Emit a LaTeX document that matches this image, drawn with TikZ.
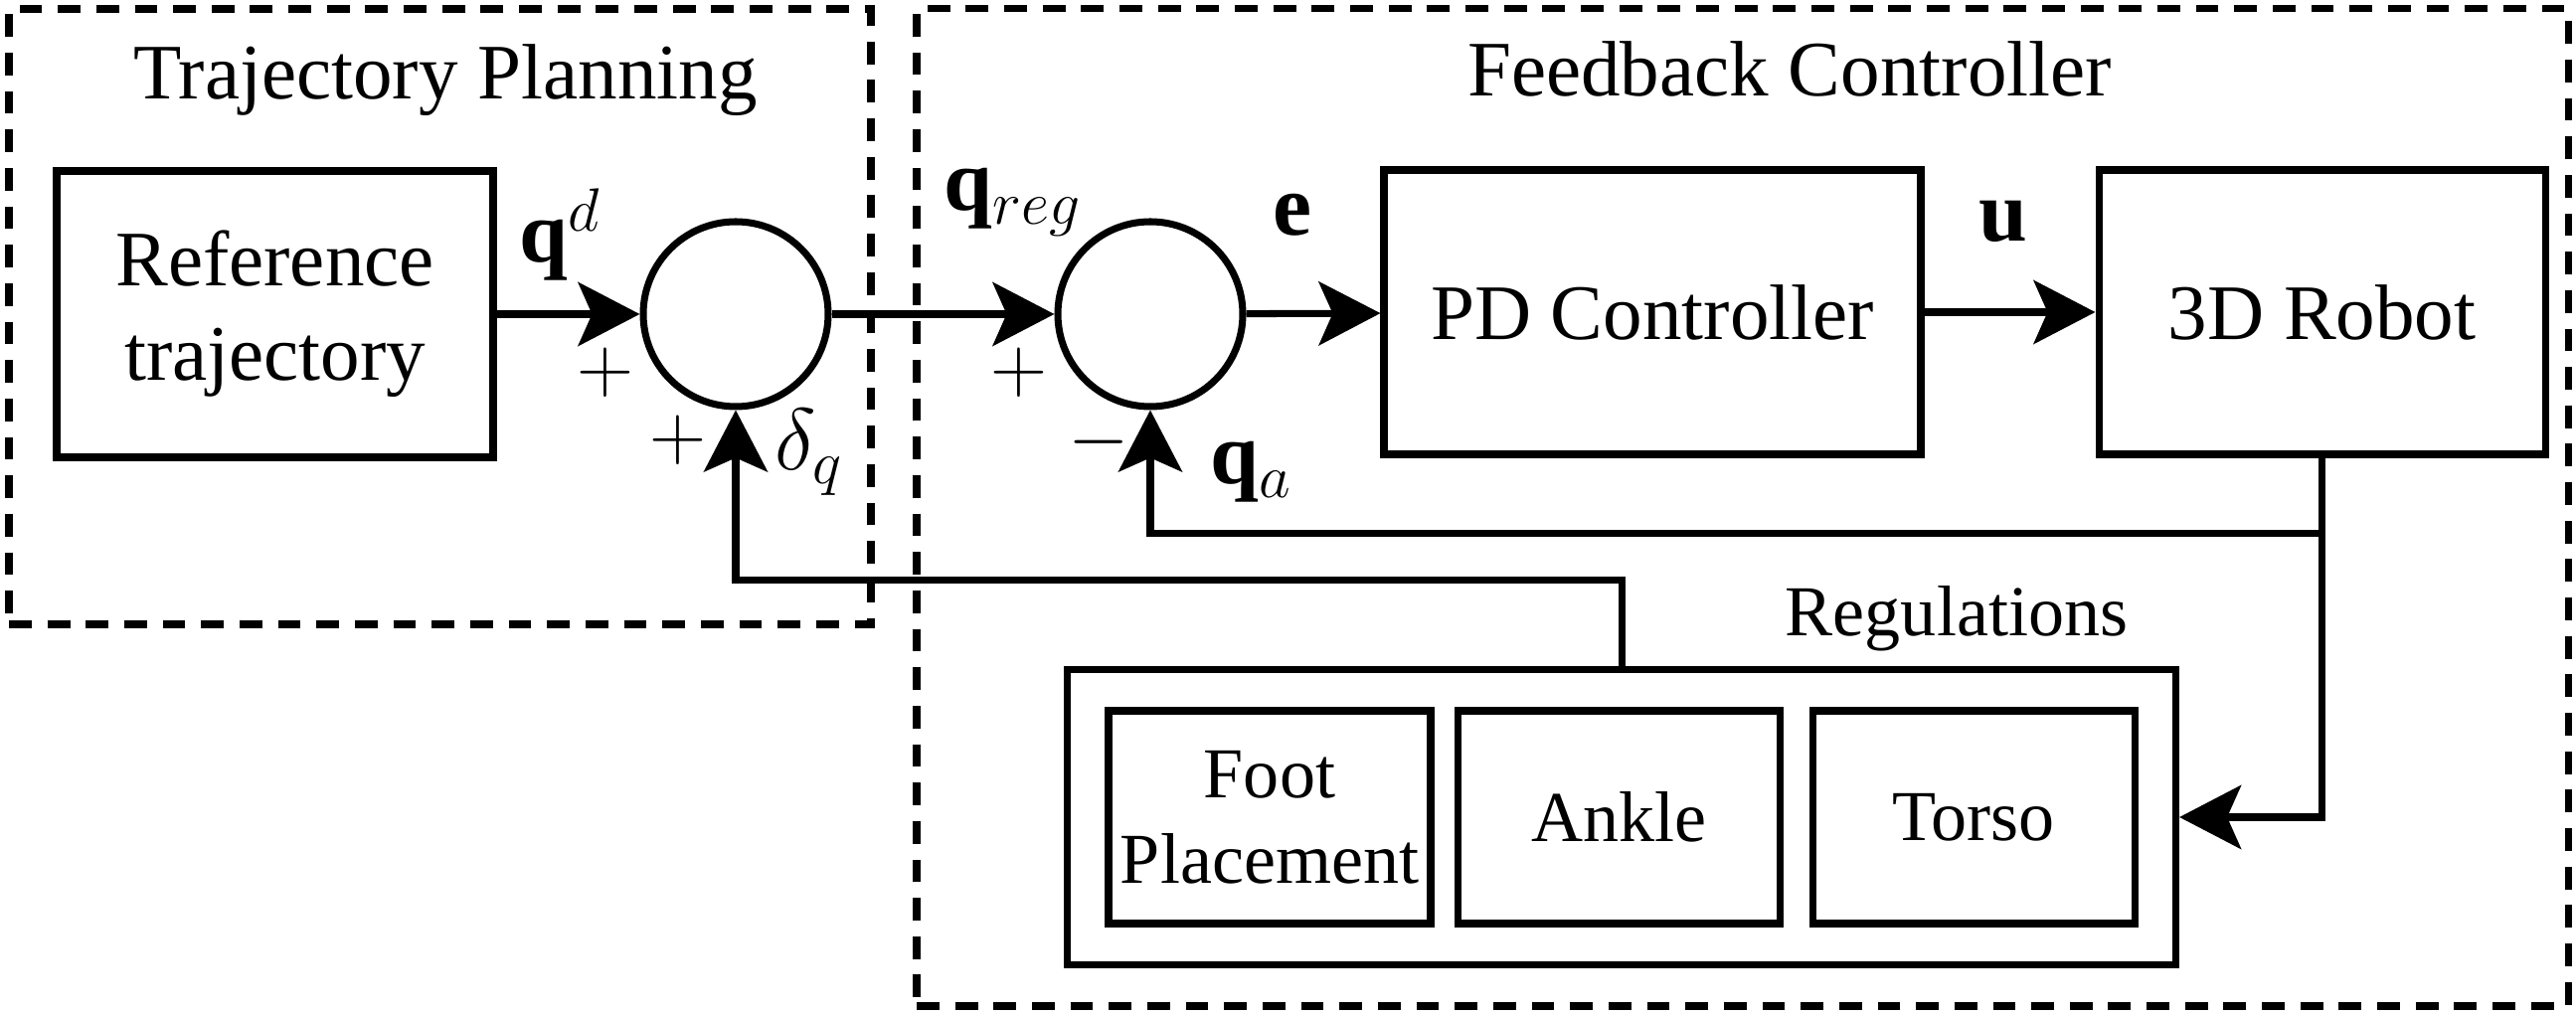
\RequirePackage{fix-cm}
\documentclass[tikz,border=0pt]{standalone}
\usepackage{amsmath}
\usepackage{fontspec}
\setmainfont{Liberation Serif}
\usepackage{tikz}
\usetikzlibrary{arrows.meta,positioning,calc,fit}
\newcommand\txtsize{\fontsize{22.5}{27}\selectfont}
\newcommand\regsize{\fontsize{20.5}{24.5}\selectfont}
\newcommand\lblsize{\fontsize{25}{30}\selectfont}

\begin{document}
\begin{tikzpicture}[
  box/.style={rectangle,draw,line width=2pt,minimum height=2.86cm,align=center,font=\txtsize},
  regbox/.style={rectangle,draw,line width=2pt,minimum height=2.14cm,minimum width=3.24cm,
                 align=center,inner sep=0pt,font=\regsize},
  sumnode/.style={circle,draw,line width=2pt,minimum size=1.86cm,inner sep=0pt},
  grp/.style={rectangle,draw,dash pattern=on 6.5pt off 4.5pt,line width=2pt,inner sep=0pt},
  arr/.style={-{Stealth[length=6.2mm,width=6.4mm,inset=1.4mm]},line width=2pt},
  lbl/.style={inner sep=0pt,anchor=base west,font=\lblsize},
  sgn/.style={inner sep=0pt,font=\txtsize}]
\useasboundingbox (0,0) rectangle (25.91,-10.23);
% dashed groups
\node[grp,minimum width=8.67cm,minimum height=6.19cm] (tp) at (4.425,-3.185) {};
\node[grp,minimum width=16.61cm,minimum height=10.03cm] (fc) at (17.525,-5.105) {};
\node[anchor=base,font=\txtsize] (tptitle) at (4.48,-1.00) {Trajectory Planning};
\node[anchor=base,font=\txtsize] (fctitle) at (18.00,-0.97) {Feedback Controller};
% forward path
\node[box,minimum width=4.39cm,minimum height=2.88cm] (ref) at (2.765,-3.16) {Reference\\trajectory};
\node[sumnode] (sum1) at (7.40,-3.16) {};
\node[sumnode] (sum2) at (11.57,-3.16) {};
\node[box,minimum width=5.40cm] (pd) at (16.62,-3.14) {PD Controller};
\node[box,minimum width=4.49cm] (robot) at (23.355,-3.14) {3D Robot};
% regulations
\node[regbox] (foot) at (12.77,-8.22) {Foot\\Placement};
\node[regbox,right=0.20cm of foot] (ankle) {Ankle};
\node[regbox,right=0.26cm of ankle] (torso) {Torso};
\node[rectangle,draw,line width=2pt,inner sep=0.38cm,fit=(foot)(ankle)(torso)] (reg) {};
\node[anchor=base,font=\regsize] (regtitle) at (19.68,-6.40) {Regulations};
% connectors
\draw[arr] (ref) -- (sum1);
\draw[arr] (sum1) -- (sum2);
\draw[arr] (sum2) -- (pd);
\draw[arr] (pd) -- (robot);
\coordinate (fb) at ($(robot.south)+(0,-0.76)$);
\coordinate (rb) at ($(reg.north)+(0,0.86)$);
\draw[arr] (robot.south) -- (fb) -| (sum2.south);
\draw[arr] (fb) |- (reg.east);
\draw[arr] (reg.north) -- (rb) -| (sum1.south);
% labels
\node[lbl] (lqd) at (5.22,-2.64) {$\mathbf{q}^{d}$};
\node[sgn] (p1) at (6.09,-3.75) {$+$};
\node[sgn] (p2) at (6.82,-4.43) {$+$};
\node[lbl] (ldq) at (7.79,-4.73) {$\delta_q$};
\node[lbl] (lqreg) at (9.49,-2.12) {$\mathbf{q}_{reg}$};
\node[sgn] (p3) at (10.25,-3.75) {$+$};
\node[sgn] (m1) at (11.05,-4.45) {$-$};
\node[lbl] (le) at (12.80,-2.37) {$\mathbf{e}$};
\node[lbl] (lu) at (19.90,-2.43) {$\mathbf{u}$};
\node[lbl] (lqa) at (12.17,-4.87) {$\mathbf{q}_a$};
\end{tikzpicture}
\end{document}
